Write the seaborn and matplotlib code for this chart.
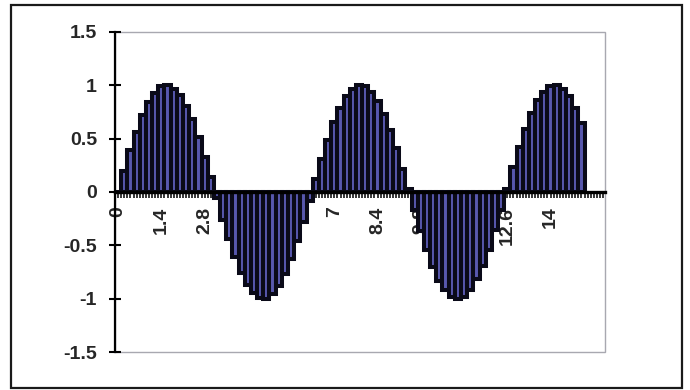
import numpy as np
import matplotlib
matplotlib.use("Agg")
import matplotlib.pyplot as plt
import matplotlib.patches as mpatches
from matplotlib.ticker import FixedLocator
import seaborn as sns

# x categories (step 0.2) and bar heights
x_vals = [0.0, 0.2, 0.4, 0.6, 0.8, 1.0, 1.2, 1.4, 1.6, 1.8,
          2.0, 2.2, 2.4, 2.6, 2.8, 3.0, 3.2, 3.4, 3.6, 3.8,
          4.0, 4.2, 4.4, 4.6, 4.8, 5.0, 5.2, 5.4, 5.6, 5.8,
          6.0, 6.2, 6.4, 6.6, 6.8, 7.0, 7.2, 7.4, 7.6, 7.8,
          8.0, 8.2, 8.4, 8.6, 8.8, 9.0, 9.2, 9.4, 9.6, 9.8,
          10.0, 10.2, 10.4, 10.6, 10.8, 11.0, 11.2, 11.4, 11.6, 11.8,
          12.0, 12.2, 12.4, 12.6, 12.8, 13.0, 13.2, 13.4, 13.6, 13.8,
          14.0, 14.2, 14.4, 14.6, 14.8, 15.0]
y_vals = [0.00, 0.20, 0.39, 0.56, 0.72, 0.84, 0.93, 0.99, 1.00, 0.97,
          0.91, 0.81, 0.68, 0.52, 0.33, 0.14, -0.06, -0.26, -0.44, -0.61,
          -0.76, -0.87, -0.95, -0.99, -1.00, -0.96, -0.88, -0.77, -0.63, -0.46,
          -0.28, -0.08, 0.12, 0.31, 0.49, 0.66, 0.79, 0.90, 0.97, 1.00,
          0.99, 0.94, 0.85, 0.73, 0.58, 0.41, 0.22, 0.03, -0.17, -0.37,
          -0.54, -0.70, -0.83, -0.92, -0.98, -1.00, -0.98, -0.92, -0.82, -0.69,
          -0.54, -0.36, -0.17, 0.03, 0.23, 0.42, 0.59, 0.74, 0.86, 0.94,
          0.99, 1.00, 0.97, 0.90, 0.79, 0.65]
y_ticks = [-1.5, -1, -0.5, 0, 0.5, 1, 1.5]
label_every = 7

FACE = "#5858ae"
EDGE = "#0a0a18"

sns.set_style("white")
plt.rcParams["font.family"] = ["Liberation Sans", "DejaVu Sans"]

fig = plt.figure(figsize=(6.9, 3.9), dpi=100)
ax = fig.add_axes([0.1667, 0.0974, 0.71, 0.8206])

cats = [f"{v:g}" for v in x_vals]
sns.barplot(x=cats, y=y_vals, ax=ax, order=cats, width=1.0, color=FACE,
            saturation=1, edgecolor=EDGE, linewidth=2.9)

ax.set_xlim(-0.5, 78.8)
ax.set_ylim(-1.5, 1.5)

# plot area border (grey) and axes
ax.add_patch(mpatches.Rectangle((0, 0), 1, 1, transform=ax.transAxes, fill=False,
                                edgecolor="#a8a8b0", lw=1.0, zorder=0, clip_on=False))
for s in ["top", "right"]:
    ax.spines[s].set_visible(False)
ax.spines["left"].set_color("black")
ax.spines["left"].set_linewidth(1.6)
ax.spines["bottom"].set_position(("data", 0))
ax.spines["bottom"].set_color("black")
ax.spines["bottom"].set_linewidth(2.4)
ax.spines["bottom"].set_zorder(3)

n = len(x_vals)
major = list(range(0, n, label_every))
ax.xaxis.set_major_locator(FixedLocator(major))
ax.set_xticklabels([cats[i] for i in major], rotation=90, fontsize=14,
                   fontweight="bold")
ax.xaxis.set_minor_locator(FixedLocator(list(np.arange(-0.5, 79, 0.5))))
ax.tick_params(axis="x", which="both", direction="out", length=4.5, width=1.1,
               color="black", bottom=True)
ax.tick_params(axis="x", which="major", pad=6)

ax.set_yticks(y_ticks)
ax.set_yticklabels([f"{t:g}" for t in y_ticks], fontsize=14, fontweight="bold")
ax.tick_params(axis="y", direction="inout", length=8, width=1.5, color="black",
               pad=9, left=True)

ax.set_xlabel("")
ax.set_ylabel("")

# outer chart frame
fig.patches.append(mpatches.Rectangle((0.016, 0.006), 0.972, 0.981,
                                      transform=fig.transFigure, fill=False,
                                      edgecolor="#1a1a1a", lw=1.6))

fig.savefig("out.png", dpi=100, facecolor="white")
